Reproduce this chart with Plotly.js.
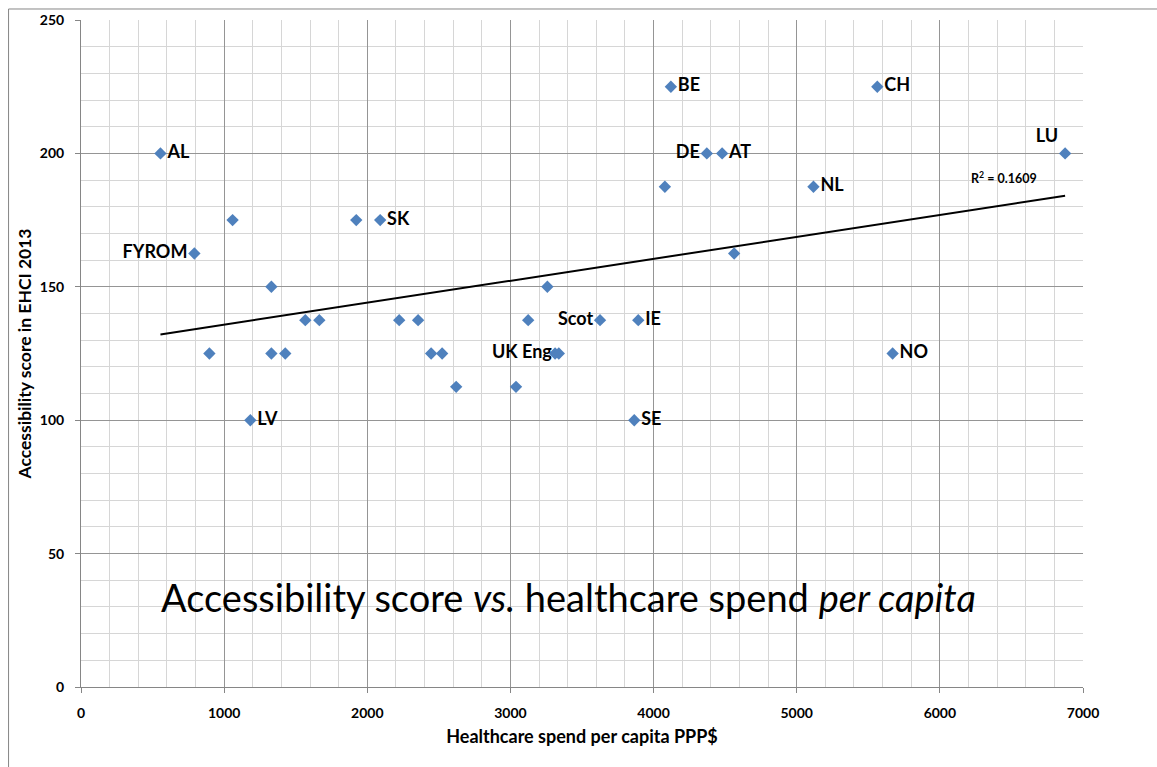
<!DOCTYPE html>
<html>
<head>
<meta charset="utf-8">
<script src="https://cdn.plot.ly/plotly-3.0.1.min.js"></script>
<style>html,body{margin:0;padding:0;background:#fff;}#chart{width:1157px;height:767px;}</style>
</head>
<body>
<div id="chart"></div>
<script>
// Healthcare spend per capita (PPP$) and EHCI 2013 accessibility score
const spend = [555, 792, 1059, 897, 1183, 1330, 1330, 1427, 1567, 1665, 1923, 2090, 2223, 2355, 2446, 2523, 2621, 3039, 3124, 3258, 3312, 3338, 3626, 3893, 3865, 4079, 4121, 4372, 4479, 4563, 5117, 5563, 5670, 6875];
const score = [200, 162.5, 175, 125, 100, 150, 125, 125, 137.5, 137.5, 175, 175, 137.5, 137.5, 125, 125, 112.5, 112.5, 137.5, 150, 125, 125, 137.5, 137.5, 100, 187.5, 225, 200, 200, 162.5, 187.5, 225, 125, 200];
const labels = ['AL', 'FYROM', '', '', 'LV', '', '', '', '', '', '', 'SK', '', '', '', '', '', '', '', '', '', 'UK Eng', 'Scot', 'IE', 'SE', '', 'BE', 'DE', 'AT', '', 'NL', 'CH', 'NO', 'LU'];
const r2Text = 'R<sup>2</sup> = 0.1609';
const xTitle = 'Healthcare spend per capita PPP$';
const yTitle = 'Accessibility score in EHCI 2013';
const chartTitle = 'Accessibility score <i>vs.</i> healthcare spend <i>per capita</i>';

// label placement (style)
const leftSide = ['FYROM', 'DE', 'Scot', 'UK Eng'];
const topLeft = ['LU'];

// split into labelled and unlabelled points
const lab = {x: [], y: [], t: [], p: []}, unl = {x: [], y: []};
spend.forEach((v, i) => {
  if (labels[i]) {
    lab.x.push(v); lab.y.push(score[i]); lab.t.push(labels[i]);
    lab.p.push(topLeft.includes(labels[i]) ? 'top left' : (leftSide.includes(labels[i]) ? 'middle left' : 'middle right'));
  } else { unl.x.push(v); unl.y.push(score[i]); }
});

// linear least-squares trendline computed from the data
const n = spend.length;
const mx = spend.reduce((a, b) => a + b, 0) / n;
const my = score.reduce((a, b) => a + b, 0) / n;
let sxy = 0, sxx = 0;
for (let i = 0; i < n; i++) { sxy += (spend[i] - mx) * (score[i] - my); sxx += (spend[i] - mx) ** 2; }
const slope = sxy / sxx, icpt = my - slope * mx;
const trendX = [Math.min(...spend), Math.max(...spend)];
const trendY = trendX.map(v => icpt + slope * v);

const labelFont = {family: 'Lato', size: 18, weight: 'bold', color: '#000'};
const tickFont = {family: 'Lato', size: 14, weight: 'bold', color: '#000'};
const mk = {symbol: 'diamond', size: 9.5, color: '#4F81BD', line: {width: 0}};

const traces = [
  {x: trendX, y: trendY, type: 'scatter', mode: 'lines', line: {color: '#000', width: 2}, hoverinfo: 'skip', showlegend: false},
  {x: unl.x, y: unl.y, type: 'scatter', mode: 'markers', marker: mk, showlegend: false, cliponaxis: false},
  {x: lab.x, y: lab.y, text: lab.t, type: 'scatter', mode: 'markers+text', textposition: lab.p, textfont: labelFont,
   marker: mk, showlegend: false, cliponaxis: false}
];

const layout = {
  width: 1157, height: 767,
  margin: {l: 80.5, r: 74, t: 20, b: 79.5},
  paper_bgcolor: '#fff', plot_bgcolor: '#fff',
  showlegend: false,
  xaxis: {
    range: [0, 7000], dtick: 1000, tick0: 0,
    showgrid: true, gridcolor: '#959595', gridwidth: 1,
    minor: {dtick: 200, showgrid: true, gridcolor: '#d6d6d6', gridwidth: 1, ticks: ''},
    showline: true, linecolor: '#868686', linewidth: 1,
    ticks: 'outside', ticklen: 5, tickcolor: '#868686',
    tickfont: tickFont, ticklabelstandoff: 8, zeroline: false,
    title: {text: xTitle, font: {family: 'Lato', size: 18, weight: 'bold', color: '#000'}, standoff: 10}
  },
  yaxis: {
    range: [0, 250], dtick: 50, tick0: 0,
    showgrid: true, gridcolor: '#959595', gridwidth: 1,
    minor: {dtick: 10, showgrid: true, gridcolor: '#d6d6d6', gridwidth: 1, ticks: ''},
    showline: true, linecolor: '#868686', linewidth: 1,
    ticks: 'outside', ticklen: 5, tickcolor: '#868686',
    tickfont: tickFont, ticklabelstandoff: 8, zeroline: false,
    title: {text: yTitle, font: {family: 'Lato', size: 17.5, weight: 'bold', color: '#000'}, standoff: 3}
  },
  annotations: [
    {text: chartTitle, xref: 'paper', yref: 'paper', x: 0.487, y: 0.1356, xanchor: 'center', yanchor: 'middle', showarrow: false,
     font: {family: 'Lato', size: 38, color: '#000'}},
    {text: r2Text, xref: 'x', yref: 'y', x: 6451, y: 190.8, xanchor: 'center', yanchor: 'middle', showarrow: false,
     font: {family: 'Lato', size: 12.5, weight: 'bold', color: '#000'}}
  ],
  shapes: [
    {type: 'line', xref: 'paper', yref: 'paper', x0: -0.0723, x1: -0.0723, y0: 1.0165, y1: -0.2, line: {color: '#868686', width: 1}},
    {type: 'line', xref: 'paper', yref: 'paper', x0: -0.0723, x1: 1.2, y0: 1.0165, y1: 1.0165, line: {color: '#868686', width: 1}}
  ]
};

Plotly.newPlot('chart', traces, layout, {displayModeBar: false, staticPlot: true});
</script>
</body>
</html>
